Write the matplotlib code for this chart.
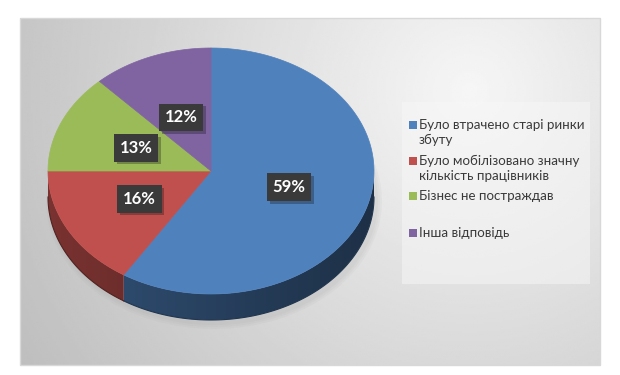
import numpy as np
import matplotlib
matplotlib.use("Agg")
import matplotlib.pyplot as plt
import matplotlib.patheffects as pe
from matplotlib.patches import Polygon, Rectangle, Ellipse

# ── Data ───────────────────────────────────
labels = [
    ["Було втрачено старі ринки", "збуту"],
    ["Було мобілізовано значну", "кількість працівників"],
    ["Бізнес не постраждав"],
    ["Інша відповідь"],
]
values = [59, 16, 13, 12]
colors = ["#4f81bd", "#c0504d", "#9bbb59", "#8064a2"]

plt.rcParams["font.family"] = ["Lato", "DejaVu Sans"]

W, H = 620, 375
fig = plt.figure(figsize=(W / 100, H / 100), dpi=100)
ax = fig.add_axes([0, 0, 1, 1])
ax.set_xlim(0, W)
ax.set_ylim(H, 0)
ax.axis("off")

# ── Background panel (radial grey gradient) ──
px0, py0, px1, py1 = 20, 18, 600, 365
gx, gy = np.meshgrid(np.linspace(px0, px1, 300), np.linspace(py0, py1, 180))
d = np.hypot(gx - 470, gy - 90) / 480
shade = np.clip(0.965 - 0.2 * d, 0, 1)
ax.imshow(shade, cmap="gray", vmin=0, vmax=1, extent=(px0, px1, py1, py0),
          interpolation="bilinear", zorder=0, aspect="auto")
ax.add_patch(Rectangle((px0, py0), px1 - px0, py1 - py0, fill=False,
                       edgecolor="#d8d8d8", linewidth=1.0, zorder=1))

# ── 3D pie geometry ─────────────────────────
cx, cy, rx, ry, depth = 211, 171, 163, 123, 26


def pt(t, dy=0.0):
    return cx + rx * np.cos(t), cy - ry * np.sin(t) + dy


# soft shadow under the pie
for k, a in enumerate([0.05, 0.05, 0.05]):
    ax.add_patch(Ellipse((cx + 3, cy + depth + 4), 2 * rx + 10 - 4 * k,
                         2 * ry + 10 - 4 * k, color="#808080", alpha=a,
                         zorder=2, linewidth=0))

angles = []
start = 90.0
for v in values:
    end = start - v * 3.6
    angles.append((start, end))
    start = end

# side walls (front half only), shaded darker towards the right
xs_grad = np.linspace(cx - rx, cx + rx, 256)
fac = 0.5 - 0.13 * (xs_grad - cx) / rx
for (a0, a1), col in zip(angles, colors):
    lo, hi = np.radians(min(a0, a1)), np.radians(max(a0, a1))
    base = np.array(matplotlib.colors.to_rgb(col))
    for off in (0, -2 * np.pi, 2 * np.pi):
        s, e = max(lo + off, -np.pi), min(hi + off, 0)
        if e <= s:
            continue
        ts = np.linspace(s, e, 120)
        top = list(zip(*pt(ts)))
        bot = list(zip(*pt(ts[::-1], depth)))
        side = Polygon(top + bot, closed=True, facecolor="none",
                       edgecolor="none", zorder=3)
        ax.add_patch(side)
        img = (fac[None, :, None] * base[None, None, :]).repeat(2, axis=0)
        im = ax.imshow(img, extent=(cx - rx, cx + rx, cy + ry + depth + 2, cy - 2),
                       aspect="auto", interpolation="bilinear", zorder=3)
        im.set_clip_path(side)
        # smooth outer rim
        bx, by = pt(ts, depth)
        ax.plot(bx, by, color=base * 0.42, linewidth=0.8, zorder=3.5)

# top faces
for (a0, a1), col in zip(angles, colors):
    ts = np.radians(np.linspace(a0, a1, 120))
    xs, ys = pt(ts)
    verts = [(cx, cy)] + list(zip(xs, ys))
    ax.add_patch(Polygon(verts, closed=True, facecolor=col, edgecolor=col,
                         linewidth=0.5, zorder=4))

# data labels
for (a0, a1), v in zip(angles, values):
    tm = np.radians((a0 + a1) / 2)
    lx = cx + 0.5 * rx * np.cos(tm)
    ly = cy - 0.47 * ry * np.sin(tm)
    t = ax.text(lx, ly, f"{v}%", fontsize=12, fontweight="bold",
                color="white", ha="center", va="center", zorder=6,
                bbox=dict(boxstyle="square,pad=0.34", facecolor="#3a3a3a",
                          edgecolor="none"))
    t.get_bbox_patch().set_path_effects(
        [pe.SimplePatchShadow(offset=(2, -2), alpha=0.3), pe.Normal()])

# ── Legend ─────────────────────────────────
ax.add_patch(Rectangle((402, 102), 188, 182, facecolor="#f7f7f7",
                       edgecolor="none", alpha=0.5, zorder=5))
leg_y = [125, 161, 196, 233]
for y, lines, col in zip(leg_y, labels, colors):
    ax.add_patch(Rectangle((409, y - 4), 7.5, 7.5, facecolor=col,
                           edgecolor="none", zorder=6))
    for k, line in enumerate(lines):
        ax.text(419, y + 15 * k, line, fontsize=9.6, color="#3a3a3a",
                ha="left", va="center", zorder=6)

fig.savefig("out.png", dpi=100)
